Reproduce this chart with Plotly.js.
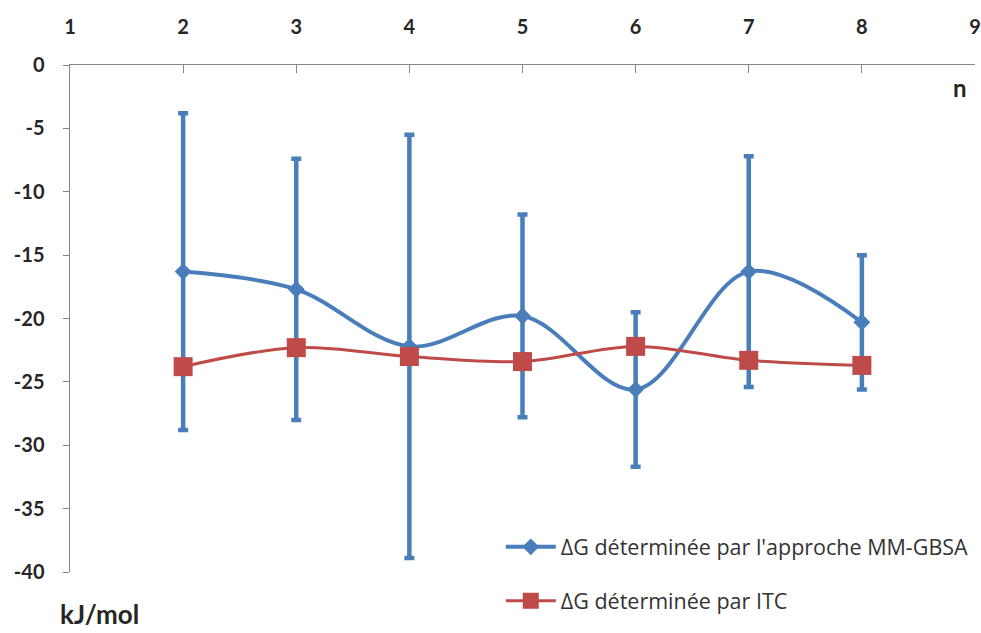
<!DOCTYPE html>
<html>
<head>
<meta charset="utf-8">
<script src="https://cdn.plot.ly/plotly-3.0.1.min.js"></script>
<style>html,body{margin:0;padding:0;background:#fff;}#chart{width:981px;height:633px;}</style>
</head>
<body>
<div id="chart"></div>
<script>
const nValues = [2, 3, 4, 5, 6, 7, 8];
const mmgbsa = [-16.3, -17.7, -22.2, -19.8, -25.6, -16.3, -20.3];
const mmgbsaErr = [12.5, 10.3, 16.7, 8.0, 6.1, 9.1, 5.3];
const itc = [-23.8, -22.3, -23.0, -23.4, -22.2, -23.3, -23.7];
const xTicks = [1, 2, 3, 4, 5, 6, 7, 8, 9];
const yTicks = [0, -5, -10, -15, -20, -25, -30, -35, -40];
const seriesNames = ["ΔG déterminée par l'approche MM-GBSA", "ΔG déterminée par ITC"];

const blue = '#4a7ebb';
const red = '#be4b48';

const traces = [
  {
    x: nValues, y: mmgbsa, name: seriesNames[0], type: 'scatter', mode: 'lines+markers',
    legendgroup: 'a',
    line: {color: blue, width: 4, shape: 'spline', smoothing: 1},
    marker: {symbol: 'diamond', size: 13, color: blue},
    error_y: {type: 'data', array: mmgbsaErr, visible: true, color: blue, thickness: 4.5, width: 5}
  },
  {
    x: nValues, y: itc, name: seriesNames[1], type: 'scatter', mode: 'lines+markers',
    legendgroup: 'b',
    line: {color: red, width: 3, shape: 'spline', smoothing: 1},
    marker: {symbol: 'square', size: 19, color: red}
  }
];

const tickFont = {family: 'Lato, "Open Sans", sans-serif', size: 20, color: '#262626', weight: 'bold'};

const layout = {
  width: 981, height: 633,
  margin: {l: 70, r: 6, t: 65, b: 61, autoexpand: false},
  paper_bgcolor: '#fff', plot_bgcolor: '#fff',
  showlegend: true,
  legend: {
    x: 0.476, xanchor: 'left', y: 0.09, yanchor: 'top',
    traceorder: 'grouped', tracegroupgap: 23,
    font: {family: '"Open Sans", Lato, sans-serif', size: 21.5, color: '#333'},
    itemwidth: 50, bgcolor: 'rgba(0,0,0,0)'
  },
  xaxis: {
    side: 'top', range: [1, 9], tickvals: xTicks, ticktext: xTicks.map(String),
    showgrid: false, zeroline: false, showline: true, linecolor: '#868686', linewidth: 1.5,
    ticks: 'inside', ticklen: 8, tickcolor: '#868686', tickwidth: 1,
    tickfont: tickFont, ticklabelstandoff: 22, fixedrange: true
  },
  yaxis: {
    range: [-40, 0], tickvals: yTicks, ticktext: yTicks.map(String),
    showgrid: false, zeroline: false, showline: true, linecolor: '#868686', linewidth: 1.5,
    ticks: 'outside', ticklen: 6, tickcolor: '#868686', tickwidth: 1,
    tickfont: tickFont, ticklabelstandoff: 14, fixedrange: true
  },
  annotations: [
    {text: 'n', xref: 'paper', yref: 'paper', x: 0.983, y: 0.955, showarrow: false,
     xanchor: 'center', yanchor: 'middle',
     font: {family: 'Lato, sans-serif', size: 24, color: '#262626', weight: 'bold'}},
    {text: 'kJ/mol', xref: 'paper', yref: 'paper', x: 0.033, y: -0.082, showarrow: false,
     xanchor: 'center', yanchor: 'middle',
     font: {family: 'Lato, sans-serif', size: 26, color: '#262626', weight: 'bold'}}
  ]
};

Plotly.newPlot('chart', traces, layout, {displayModeBar: false, staticPlot: true});
</script>
</body>
</html>
